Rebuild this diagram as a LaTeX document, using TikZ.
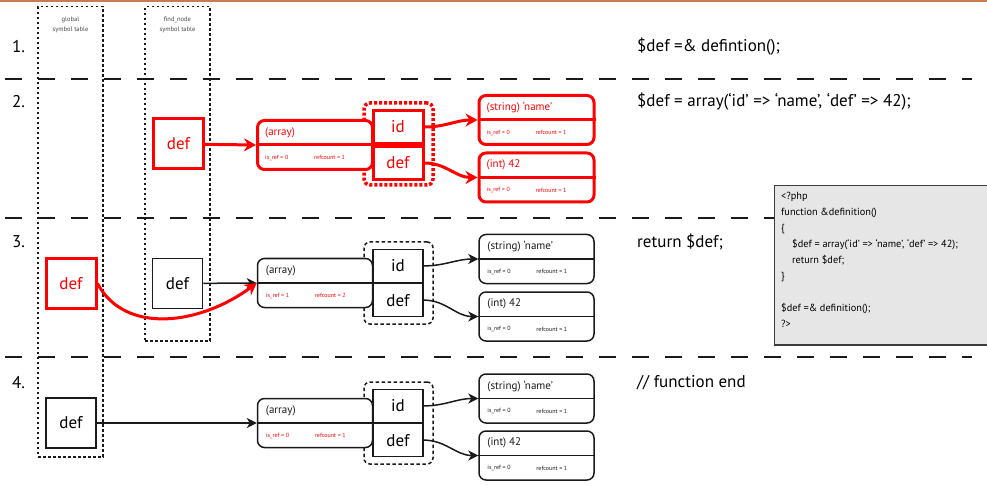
\documentclass[tikz,border=0pt]{standalone}
\usepackage{fontspec}
\setmainfont{PT Sans}
\usetikzlibrary{arrows.meta}

\definecolor{zred}{HTML}{FF0000}
\definecolor{topline}{HTML}{C97B52}
\definecolor{codebg}{HTML}{E6E6E6}
\definecolor{ink}{HTML}{1A1A1A}

\tikzset{
    symtab/.style={draw=ink, line width=1.5pt, dash pattern=on 2.5pt off 2.5pt, minimum width=65pt, inner sep=0pt},
    tablabel/.style={font=\fontsize{6.5}{10}\selectfont, align=center, inner sep=0pt, text=ink!80},
    divider/.style={draw=ink, line width=2pt, dash pattern=on 17pt off 16pt},
    stepnum/.style={font=\fontsize{17}{17}\selectfont, inner sep=0pt, anchor=west},
    phpline/.style={font=\fontsize{17}{17}\selectfont, inner sep=0pt, anchor=west},
    varbox/.style={draw=ink, line width=1.5pt, minimum size=50pt, inner sep=0pt, fill=white, font=\fontsize{17}{17}\selectfont},
    keybox/.style={draw=ink, line width=1.2pt, minimum width=50pt, minimum height=33pt, inner sep=0pt, fill=white, font=\fontsize{17}{17}\selectfont},
    keyframe/.style={draw=ink, line width=1.5pt, dash pattern=on 3.5pt off 2.5pt, rounded corners=6pt, minimum width=69pt, minimum height=82pt, inner sep=0pt},
    zvalbox/.style={line width=1.5pt, rounded corners=7pt, minimum width=115pt, minimum height=49pt, inner sep=0pt, fill=white},
    typetext/.style={font=\fontsize{11}{11}\selectfont, inner sep=0pt, anchor=west},
    smalltext/.style={font=\fontsize{6}{6}\selectfont, inner sep=0pt, anchor=west},
    hot/.style={draw=zred, text=zred, line width=3pt},
    ptr/.style={draw=ink, line width=1.5pt, -{Stealth[length=10pt, width=10pt, inset=3pt]}},
    hotptr/.style={draw=zred, line width=3pt, -{Stealth[length=12pt, width=13pt, inset=4pt]}},
}

% name, at, type, is_ref, refcount, frame colour, small colour, line width
\newcommand{\zval}[8]{%
    \node[zvalbox, draw=#6, line width=#8] (#1) at #2 {};
    \draw[draw=#6, line width=#8] (#1.west) -- (#1.east);
    \node[typetext, text=#6] (#1-type) at ([xshift=9pt, yshift=12.5pt]#1.west) {#3};
    \node[smalltext, text=#7] (#1-ref) at ([xshift=9pt, yshift=-12.5pt]#1.west) {is\_ref = #4};
    \node[smalltext, text=#7] (#1-rc) at ([xshift=58pt, yshift=-12.5pt]#1.west) {refcount = #5};
}

\begin{document}
\begin{tikzpicture}[x=1pt, y=-1pt]
    \useasboundingbox (0,0) rectangle (987,486);

    % header line
    \draw[topline, line width=1.5pt] (0,1) -- (987,1);

    % symbol tables
    \node[symtab, minimum height=450pt, anchor=north] (globaltab) at (70.5,6) {};
    \node[symtab, minimum height=334pt, anchor=north] (findtab) at (177.5,6) {};
    \node[tablabel] (globallbl) at (70.5,24.5) {global\\symbol table};
    \node[tablabel] (findlbl) at (177.5,24.5) {find\_node\\symbol table};

    % dividers
    \foreach \y in {79,218,357}
        \draw[divider] (5,\y) -- (972,\y);

    % steps
    \node[stepnum] (s1) at (12,47) {1.};
    \node[stepnum] (s2) at (12,102) {2.};
    \node[stepnum] (s3) at (12,242) {3.};
    \node[stepnum] (s4) at (12,383) {4.};

    \node[phpline] (php1) at (637,47) {\$def =\& defintion();};
    \node[phpline] (php2) at (637,102) {\$def = array(‘id’ => ‘name’, ‘def’ => 42);};
    \node[phpline] (php3) at (637,242) {return \$def;};
    \node[phpline] (php4) at (637,383) {// function end};

    % step 2
    \node[keyframe, draw=zred, line width=3.5pt, dash pattern=on 3pt off 2pt] (frame2) at (398.5,144) {};
    \node[varbox, hot] (fdef2) at (178.5,144) {def};
    \zval{arr2}{(315,145)}{(array)}{0}{1}{zred}{zred}{3pt}
    \node[keybox, hot, anchor=south] (kid2) at (398,145) {id};
    \node[keybox, hot, anchor=north] (kdef2) at (398,145) {def};
    \zval{str2}{(536.5,120)}{(string) ‘name’}{0}{1}{zred}{zred}{3pt}
    \zval{int2}{(536.5,177.5)}{(int) 42}{0}{1}{zred}{zred}{3pt}

    \draw[hotptr] (fdef2) -- (arr2.west);
    \draw[hotptr] (kid2.east) to[out=0, in=180] (str2.west);
    \draw[hotptr] (kdef2.east) to[out=0, in=180] (int2.west);

    % step 3
    \node[keyframe] (frame3) at (398.5,283) {};
    \node[varbox, hot] (gdef3) at (71,283.5) {def};
    \node[varbox] (fdef3) at (177.5,283.5) {def};
    \zval{arr3}{(315,283)}{(array)}{1}{2}{ink}{zred}{1.5pt}
    \node[keybox, anchor=south] (kid3) at (398,283) {id};
    \node[keybox, anchor=north] (kdef3) at (398,283) {def};
    \zval{str3}{(536.5,259)}{(string) ‘name’}{0}{1}{ink}{ink}{1.5pt}
    \zval{int3}{(536.5,316.5)}{(int) 42}{0}{1}{ink}{ink}{1.5pt}

    \draw[ptr] (fdef3) -- (arr3.west);
    \draw[ptr] (kid3.east) to[out=0, in=180] (str3.west);
    \draw[ptr] (kdef3.east) to[out=0, in=180] (int3.west);
    \draw[hotptr] (gdef3.east) .. controls (125,335) and (200,325) .. (arr3.west);

    % step 4
    \node[keyframe] (frame4) at (398.5,423) {};
    \node[varbox] (gdef4) at (71,423) {def};
    \zval{arr4}{(315,423)}{(array)}{0}{1}{ink}{zred}{1.5pt}
    \node[keybox, anchor=south] (kid4) at (398,423) {id};
    \node[keybox, anchor=north] (kdef4) at (398,423) {def};
    \zval{str4}{(536.5,398.5)}{(string) ‘name’}{0}{1}{ink}{ink}{1.5pt}
    \zval{int4}{(536.5,455.5)}{(int) 42}{0}{1}{ink}{ink}{1.5pt}

    \draw[ptr] (gdef4) -- (arr4.west);
    \draw[ptr] (kid4.east) to[out=0, in=180] (str4.west);
    \draw[ptr] (kdef4.east) to[out=0, in=180] (int4.west);

    % source listing
    \node[draw=ink!85, fill=codebg, line width=1.5pt, minimum width=213pt, minimum height=159pt, anchor=north west, inner sep=0pt] (code) at (773.5,185) {};
    \node[anchor=north west, align=left, inner sep=0pt, font=\fontsize{10.3}{16}\selectfont] (codetext) at (781,192)
        {<?php\\
         function \&definition()\\
         \{\\
         \hspace*{11pt}\$def = array(‘id’ => ‘name’, ‘def’ => 42);\\
         \hspace*{11pt}return \$def;\\
         \}\\
         ~\\
         \$def =\& definition();\\
         ?>};
\end{tikzpicture}
\end{document}
